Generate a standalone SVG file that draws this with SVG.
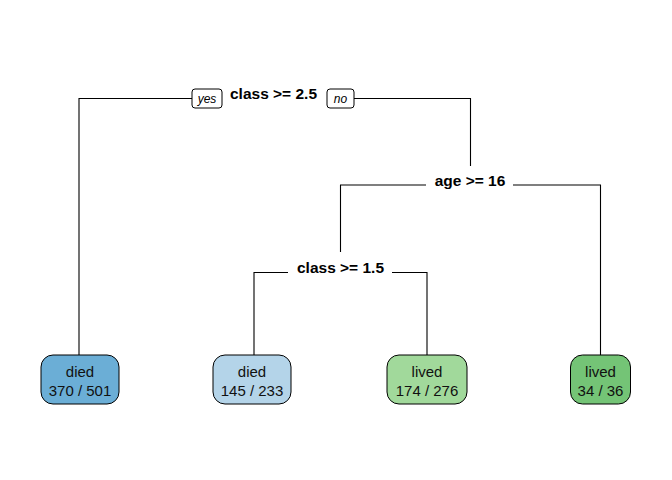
<svg xmlns="http://www.w3.org/2000/svg" width="672" height="480" viewBox="0 0 672 480">
<style>
.bg{fill:#ffffff}
.ln{fill:none;stroke:#000;stroke-width:1.1}
.split{font-family:"Liberation Sans",Arial,sans-serif;font-weight:bold;font-size:15.5px;fill:#000;text-anchor:middle}
.leaf{stroke:#000;stroke-width:1}
.lt{font-family:"Liberation Sans",Arial,sans-serif;font-size:15px;fill:#111;text-anchor:middle}
.tag{fill:#fff;stroke:#000;stroke-width:1}
.tt{font-family:"Liberation Sans",Arial,sans-serif;font-style:italic;font-size:12px;fill:#000;text-anchor:middle}
</style>
<rect class="bg" x="0" y="0" width="672" height="480"/>
<g id="connectors">
<path class="ln" d="M79,355 V98.5 H192 M354,98.5 H470.5 V166"/>
<path class="ln" d="M340.5,252 V185 H426 M513,185 H600.5 V356"/>
<path class="ln" d="M254,355 V272.5 H288 M392,272.5 H427 V355"/>
</g>
<g id="yes-label">
<rect class="tag" x="192" y="89" width="30" height="19" rx="3"/>
<text class="tt" x="207" y="103">yes</text>
</g>
<g id="no-label">
<rect class="tag" x="327" y="89" width="27" height="19" rx="3"/>
<text class="tt" x="340.5" y="103">no</text>
</g>
<g id="node-root">
<text class="split" x="273.5" y="99">class &gt;= 2.5</text>
</g>
<g id="node-age">
<text class="split" x="470" y="186">age &gt;= 16</text>
</g>
<g id="node-class15">
<text class="split" x="340.5" y="273">class &gt;= 1.5</text>
</g>
<g id="leaf-1">
<rect class="leaf" x="41" y="355" width="78" height="49" rx="12" fill="#6BAED6"/>
<text class="lt" x="80" y="377">died</text>
<text class="lt" x="80" y="396">370 / 501</text>
</g>
<g id="leaf-2">
<rect class="leaf" x="213" y="355" width="78" height="49" rx="12" fill="#B4D4E9"/>
<text class="lt" x="252" y="377">died</text>
<text class="lt" x="252" y="396">145 / 233</text>
</g>
<g id="leaf-3">
<rect class="leaf" x="387" y="355" width="80" height="49" rx="12" fill="#A1D99B"/>
<text class="lt" x="427" y="377">lived</text>
<text class="lt" x="427" y="396">174 / 276</text>
</g>
<g id="leaf-4">
<rect class="leaf" x="570.5" y="355" width="60" height="49" rx="12" fill="#74C476"/>
<text class="lt" x="600.5" y="377">lived</text>
<text class="lt" x="600.5" y="396">34 / 36</text>
</g>
</svg>
